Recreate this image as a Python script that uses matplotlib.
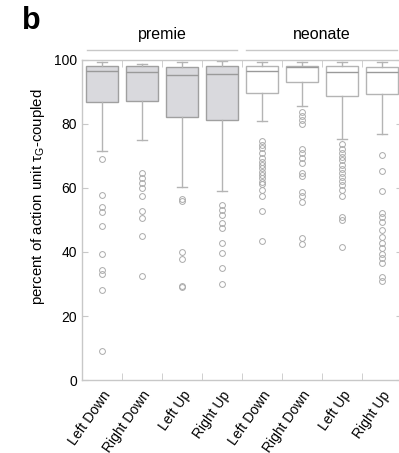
import matplotlib
matplotlib.use("Agg")
import matplotlib.pyplot as plt
import matplotlib.transforms as mtransforms

plt.rcParams["font.family"] = ["Liberation Sans", "DejaVu Sans"]

groups = ["premie", "neonate"]
categories = ["Left Down", "Right Down", "Left Up", "Right Up"]

# box statistics per category, premie first then neonate
whis_hi = [99.3, 98.9, 99.3, 99.6, 99.3, 99.3, 99.3, 99.5]
q3 = [98.0, 98.0, 97.7, 98.0, 98.0, 98.0, 98.1, 97.9]
median = [96.5, 96.1, 95.2, 95.5, 96.7, 97.7, 96.1, 96.4]
q1 = [87.0, 87.3, 82.1, 81.4, 89.6, 93.0, 88.6, 89.3]
whis_lo = [71.6, 74.9, 60.2, 59.2, 80.8, 85.6, 75.2, 76.8]

outliers = [
    [69.2, 57.8, 54.2, 52.4, 48.2, 39.4, 34.4, 33.1, 28.1, 9.2],
    [64.6, 63.2, 61.7, 59.9, 57.5, 52.9, 50.6, 45.0, 32.6],
    [56.7, 55.9, 40.1, 37.8, 29.4, 29.0],
    [54.6, 53.0, 51.5, 49.0, 47.4, 42.9, 39.8, 35.1, 30.1],
    [74.7, 73.4, 72.6, 70.8, 69.5, 68.2, 67.1, 66.1, 65.1, 64.1, 63.1,
     62.0, 61.1, 59.4, 57.5, 52.8, 43.5],
    [83.9, 82.5, 81.2, 80.1, 72.1, 70.8, 69.3, 67.7, 64.6, 63.7,
     58.8, 57.5, 55.7, 44.3, 42.6],
    [73.8, 72.3, 70.8, 69.8, 68.8, 67.2, 65.8, 64.8, 63.5, 62.3, 60.9,
     59.4, 57.5, 51.0, 50.0, 41.6],
    [70.3, 65.4, 59.2, 52.3, 51.0, 49.5, 46.9, 44.6, 42.7, 41.1, 39.4,
     38.0, 36.5, 32.3, 31.0],
]

fig = plt.figure(figsize=(3.99, 4.53), dpi=100)
ax = fig.add_axes([82 / 399, 1 - 380 / 453, 320 / 399, 320 / 453])

grey = "#b4b4b4"
stats = []
for i in range(len(median)):
    stats.append(dict(med=median[i], q1=q1[i], q3=q3[i], whislo=whis_lo[i],
                      whishi=whis_hi[i], fliers=outliers[i]))

positions = list(range(1, len(stats) + 1))
bp = ax.bxp(stats, positions=positions, widths=0.82, capwidths=0.25,
            patch_artist=True,
            boxprops=dict(edgecolor=grey, linewidth=1.0),
            whiskerprops=dict(color=grey, linewidth=1.0),
            capprops=dict(color=grey, linewidth=1.0),
            medianprops=dict(color="#9a9a9a", linewidth=1.0),
            flierprops=dict(marker="o", markersize=4.2, markerfacecolor="none",
                            markeredgecolor="#ababab", markeredgewidth=0.7))
for i, box in enumerate(bp["boxes"]):
    if i < 4:
        box.set_facecolor("#d9d9dd")
        box.set_edgecolor("#a0a0a0")
    else:
        box.set_facecolor("white")

ax.set_xlim(0.5, 8.5)
ax.set_ylim(0, 100)
ax.set_yticks([0, 20, 40, 60, 80, 100])
ax.set_xticks(positions)
ax.set_xticklabels(categories * 2, rotation=55, ha="right",
                   rotation_mode="anchor", fontsize=10)
ax.set_xticks([p + 0.5 for p in positions[:-1]], minor=True)
ax.tick_params(axis="x", which="major", length=0, pad=6)
ax.tick_params(axis="x", which="minor", direction="in", length=5,
               color="#c8c8c8", top=True, bottom=True)
ax.tick_params(axis="y", direction="in", length=4, color="#c8c8c8",
               labelsize=10, left=True, right=True)
for s in ax.spines.values():
    s.set_color("#c8c8c8")
    s.set_linewidth(1.0)

ax.set_ylabel(r"percent of action unit $\mathregular{\tau_G}$-coupled",
              fontsize=10.8)
ax.yaxis.set_label_coords(-0.11, 0.572)

trans = mtransforms.blended_transform_factory(ax.transData, ax.transAxes)
spans = [(0.625, 4.375), (4.6, 8.375)]
for g, (x0, x1) in zip(groups, spans):
    ax.plot([x0, x1], [1.031, 1.031], color="#c8c8c8", linewidth=1.0,
            transform=trans, clip_on=False)
    ax.text((x0 + x1) / 2, 1.08, g, transform=trans, ha="center",
            va="center", fontsize=11.5)

fig.text(22 / 399, 1 - 21 / 453, "b", fontsize=22, fontweight="bold",
         va="center", ha="left")

fig.savefig("out.png", dpi=100)
